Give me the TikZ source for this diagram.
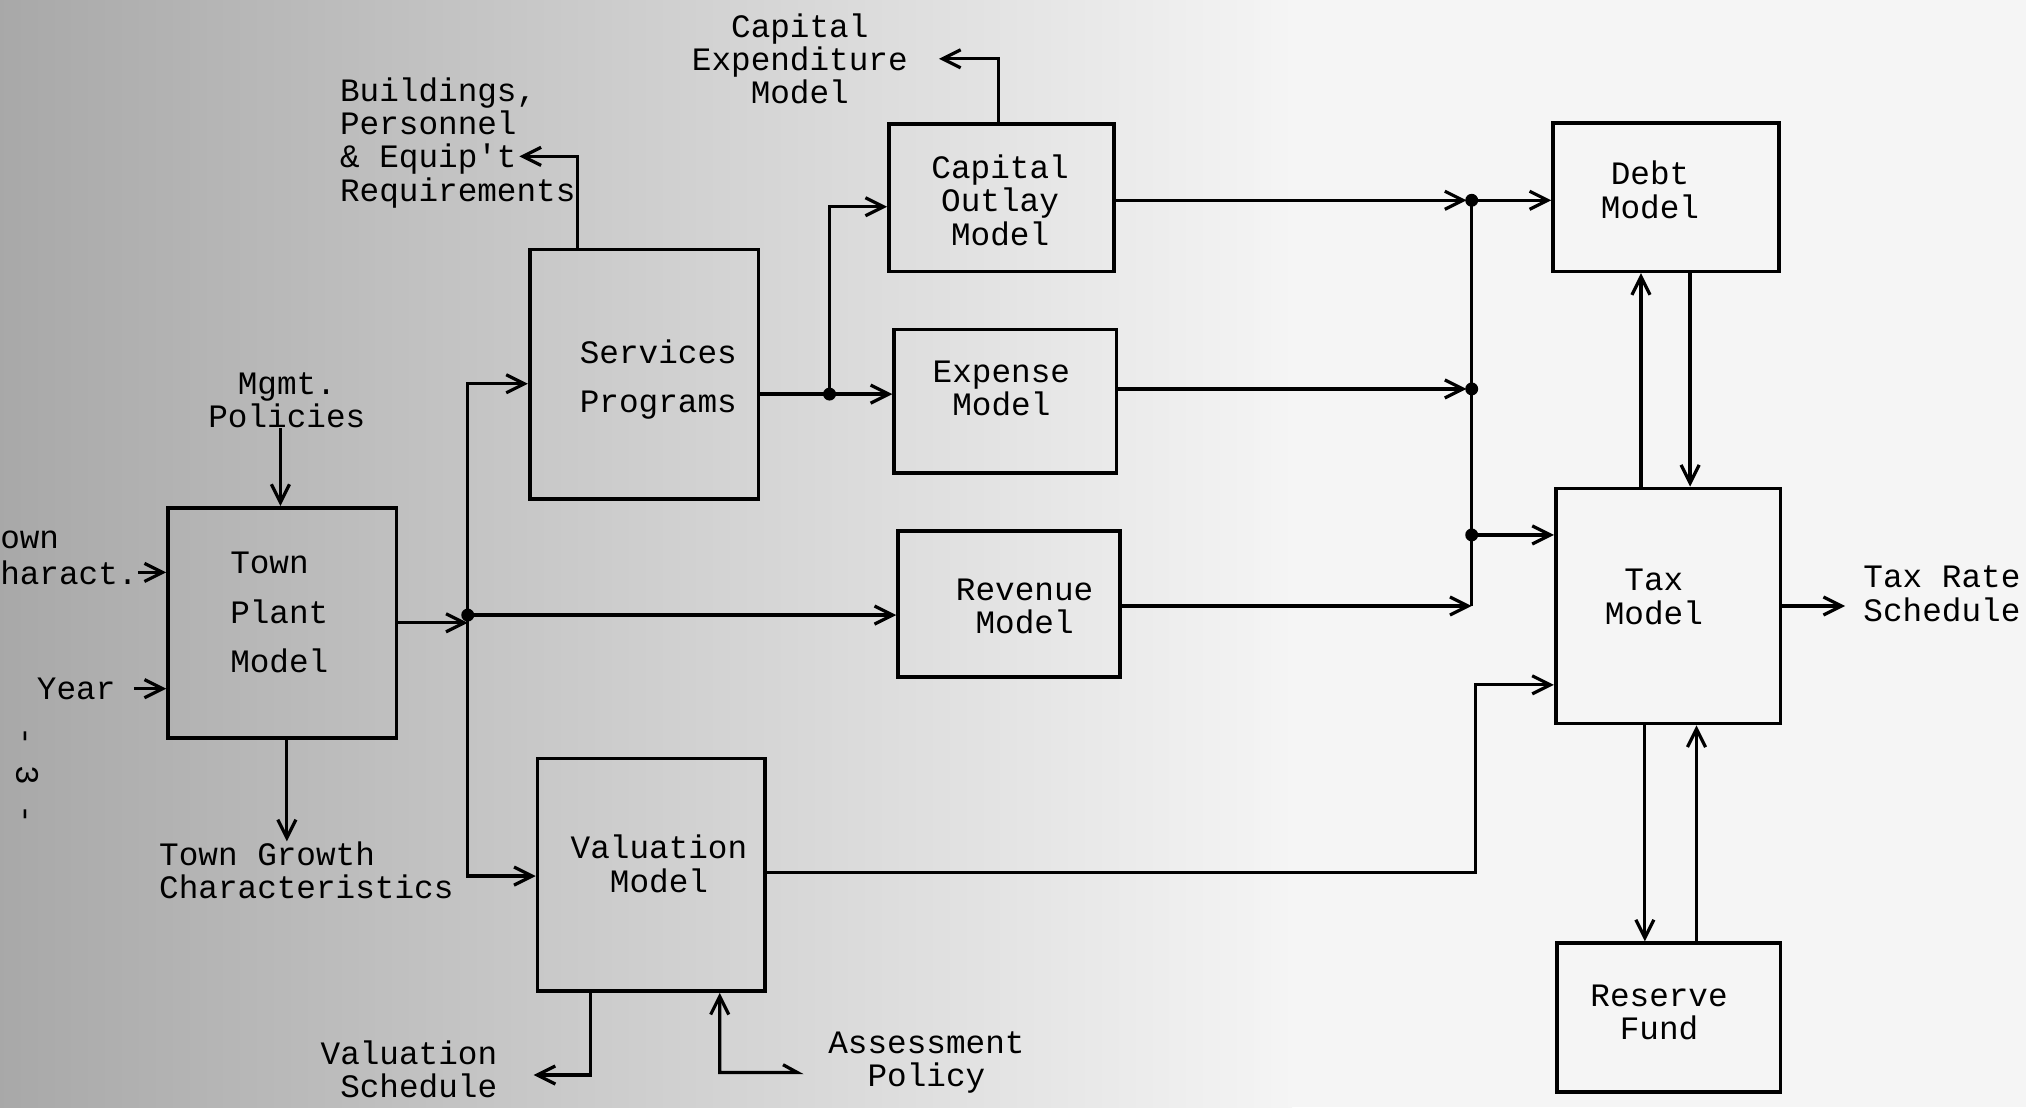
\documentclass[tikz,border=0pt]{standalone}
\usepackage{fontspec}
\setmonofont{Liberation Mono}
\usetikzlibrary{arrows.meta,calc}
\begin{document}
\begin{tikzpicture}[x=1pt,y=-1pt,
  box/.style={draw, line width=2.8pt, inner sep=0pt},
  txt/.style={inner sep=0pt, align=center, font=\ttfamily\fontsize{25.3}{25.7}\selectfont},
  ltxt/.style={txt, align=left},
  wtxt/.style={inner sep=0pt, align=left, font=\ttfamily\fontsize{25.3}{38}\selectfont},
  arr/.style={line width=2.5pt, line join=miter, -{Straight Barb[length=14pt,width=14pt,line width=2.5pt]}},
  ln/.style={line width=2.5pt},
  dot/.style={circle, fill, inner sep=0pt, minimum size=10pt}
]
\useasboundingbox (0,0) rectangle (1568,857);
\fill[black!4] (0,0) rectangle (1568,857);
\shade[left color=black!34, right color=black!4] (0,0) rectangle (1000,857);

% boxes
\node[box, minimum width=177pt, minimum height=178pt] (tp) at (218.5,482) {};
\node[box, minimum width=177pt, minimum height=193pt] (sp) at (498.5,289.5) {};
\node[box, minimum width=174pt, minimum height=114pt] (co) at (775,153) {};
\node[box, minimum width=172pt, minimum height=111pt] (em) at (778,310.5) {};
\node[box, minimum width=172pt, minimum height=113pt] (rm) at (781,467.5) {};
\node[box, minimum width=176pt, minimum height=180pt] (vm) at (504,677) {};
\node[box, minimum width=175pt, minimum height=115pt] (dm) at (1289.5,152.5) {};
\node[box, minimum width=174pt, minimum height=182pt] (tm) at (1291,469) {};
\node[box, minimum width=173pt, minimum height=115pt] (rf) at (1291.5,787.5) {};

% box texts
\node[wtxt, anchor=west] (tpt) at (178,474) {Town\\Plant\\Model};
\node[wtxt, align=center] (spt) at (509.5,294) {Services\\Programs};
\node[txt] (cot) at (774,155) {Capital\\Outlay\\Model};
\node[txt] (emt) at (775,300.5) {Expense\\Model};
\node[txt] (rmt) at (793,469.5) {Revenue\\Model};
\node[txt] (vmt) at (510,668.5) {Valuation\\Model};
\node[txt] (dmt) at (1277,147) {Debt\\Model};
\node[txt] (tmt) at (1280,462) {Tax\\Model};
\node[txt] (rft) at (1284,783.5) {Reserve\\Fund};

% labels
\node[txt] (capex) at (619,45.5) {Capital\\Expenditure\\Model};
\node[ltxt, anchor=west] (bpe) at (263,110.5) {Buildings,\\Personnel\\\& Equip't\\Requirements};
\node[txt] (mgmt) at (222,310) {Mgmt.\\Policies};
\node[ltxt, anchor=west] (own) at (0,418) {own};
\node[ltxt, anchor=west] (haract) at (0,443) {haract.};
\node[txt] (year) at (59,533) {Year};
\node[txt, rotate=-90] (pnum) at (21,600) {- 3 -};
\node[ltxt, anchor=west] (growth) at (123,673.5) {Town Growth\\Characteristics};
\node[txt, align=right, anchor=east] (vsched) at (385,827.5) {Valuation\\Schedule};
\node[txt] (ap) at (717,822) {Assessment\\Policy};
\node[ltxt, anchor=west] (trs) at (1442,459.5) {Tax Rate\\Schedule};

% coordinates
\coordinate (j1) at (362,476);
\coordinate (j2) at (642,305);
\coordinate (j3) at (1139,155);
\coordinate (j4) at (1139,301);
\coordinate (j5) at (1139,414);
\coordinate (c1) at (1139,469);
\coordinate (c2) at (1142,530);
\coordinate (bpeend) at (402,121);
\coordinate (apstart) at (617,830);
\coordinate (aptick) at (606,824);
\coordinate (g1) at ($(tp.south)+(3.5,0)$);
\coordinate (s1) at ($(sp.north)+(-51.5,0)$);
\coordinate (s2) at ($(co.north)+(-2,0)$);
\coordinate (v1) at ($(vm.south)+(-47,0)$);
\coordinate (v2) at ($(vm.south)+(53,0)$);
\coordinate (t1) at (tm.east -| trs.west);

% connectors into Town Plant
\draw[arr] ($(mgmt.south)+(-5,0)$) -- ($(tp.north)+(-1.5,0)$);
\draw[arr] (haract.east) -- (haract.east -| tp.west);
\draw[arr] ($(year.east)+(14,0)$) -- (year.east -| tp.west);
\draw[arr] (g1) -- (g1 |- growth.north);

% Town Plant outputs
\draw[arr] (tp.east) -- (tp.east -| j1);
\draw[arr] (j1) |- ($(sp.west)+(0,7.5)$);
\draw[arr] (j1) |- ($(vm.west)+(0,1)$);
\draw[arr] (j1) -- (j1 -| rm.west);
\node[dot] (d1) at (j1) {};

% Services outputs
\draw[arr] ($(sp.east)+(0,15.5)$) -- (j2 -| em.west);
\draw[arr] (j2) |- ($(co.west)+(0,7)$);
\node[dot] (d2) at (j2) {};
\draw[arr] (s1) |- (bpeend);

% Capital outlay to capital expenditure
\draw[arr] (s2) |- ($(capex.east)+(24,0)$);

% bus to Debt and Tax
\draw[arr] (co.east |- j3) -- ($(j3)+(-4,0)$);
\draw[arr] (j3) -- (j3 -| dm.west);
\draw[arr] (em.east |- j4) -- ($(j4)+(-4,0)$);
\draw[arr] (rm.east |- c1) -- (c1);
\draw[ln] (j3) -- (c1);
\draw[arr] (j5) -- (j5 -| tm.west);
\node[dot] (d3) at (j3) {};
\node[dot] (d4) at (j4) {};
\node[dot] (d5) at (j5) {};

% Valuation to Tax
\draw[arr] ($(vm.east)+(0,-2)$) -| (c2) -- (c2 -| tm.west);

% Tax <-> Debt, Tax <-> Reserve
\draw[arr] ($(tm.north)+(-21,0)$) -- ($(dm.south)+(-19.5,0)$);
\draw[arr] ($(dm.south)+(18.5,0)$) -- ($(tm.north)+(17,0)$);
\draw[arr] ($(tm.south)+(-18,0)$) -- ($(rf.north)+(-18.5,0)$);
\draw[arr] ($(rf.north)+(21.5,0)$) -- ($(tm.south)+(22,0)$);

% Tax rate schedule
\draw[arr] (tm.east) -- ($(t1)+(-14,0)$);

% Valuation schedule and assessment policy
\draw[arr] (v1) |- ($(vsched.east)+(28,4.5)$);
\draw[arr] (aptick) -- (apstart) -| (v2);
\end{tikzpicture}
\end{document}
